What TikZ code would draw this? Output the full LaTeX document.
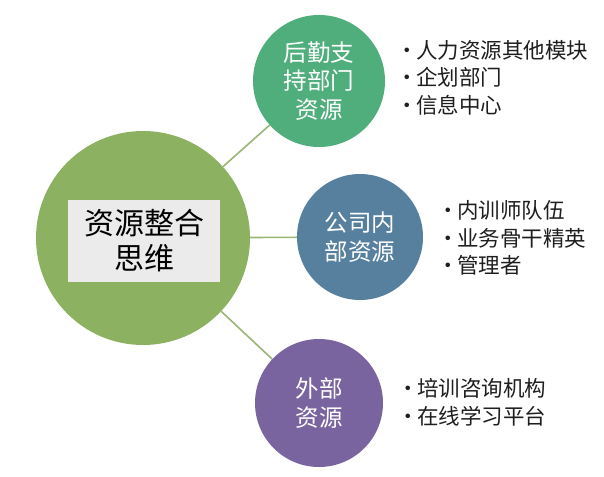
\documentclass[tikz,border=0pt]{standalone}
\usepackage{fontspec}
\setmainfont{Noto Sans CJK SC}
\usepackage{tikz}
\usetikzlibrary{positioning,backgrounds}
\definecolor{hubgreen}{RGB}{140,177,96}
\definecolor{supportgreen}{RGB}{80,174,125}
\definecolor{innerblue}{RGB}{86,128,158}
\definecolor{outerpurple}{RGB}{122,100,160}
\definecolor{linkolive}{RGB}{155,181,116}
\definecolor{titlegray}{RGB}{235,235,235}
\definecolor{itemgray}{RGB}{30,30,30}
\newcommand{\itemdot}{\makebox[10pt][c]{·}\hspace{4pt}}

\begin{document}
\begin{tikzpicture}[x=1pt,y=-1pt,
    topic/.style={circle, inner sep=0pt, text=white, align=center, font=\fontsize{23.5}{28.5}\selectfont},
    items/.style={anchor=west, inner sep=0pt, align=left, text=itemgray, font=\fontsize{21.5}{27.5}\selectfont},
    link/.style={draw=linkolive, line width=1.6pt}]
    \useasboundingbox (0,0) rectangle (604,476);
    % hub
    \node[circle, fill=hubgreen, minimum size=214pt] (hub) at (143,238) {};
    \node[fill=titlegray, minimum width=152pt, minimum height=82pt, align=center,
          font=\fontsize{30}{35}\selectfont] (title) at (144,241) {资源整合\\思维};
    % three resource groups
    \node[topic, fill=supportgreen, minimum size=132pt] (support) at (319,81) {后勤支\\持部门\\资源};
    \node[topic, fill=innerblue, minimum size=126pt] (inner) at (360,237) {公司内\\部资源};
    \node[topic, fill=outerpurple, minimum size=128pt] (outer) at (319,403) {外部\\资源};
    \begin{scope}[on background layer]
        \draw[link] (hub) -- (support);
        \draw[link] (hub) -- (inner);
        \draw[link] (hub) -- (outer);
    \end{scope}
    % lists
    \node[items] (supportlist) at (402,77.5) {\itemdot 人力资源其他模块\\\itemdot 企划部门\\\itemdot 信息中心};
    \node[items] (innerlist) at (443,238) {\itemdot 内训师队伍\\\itemdot 业务骨干精英\\\itemdot 管理者};
    \node[items] (outerlist) at (403,402.5) {\itemdot 培训咨询机构\\\itemdot 在线学习平台};
\end{tikzpicture}
\end{document}
